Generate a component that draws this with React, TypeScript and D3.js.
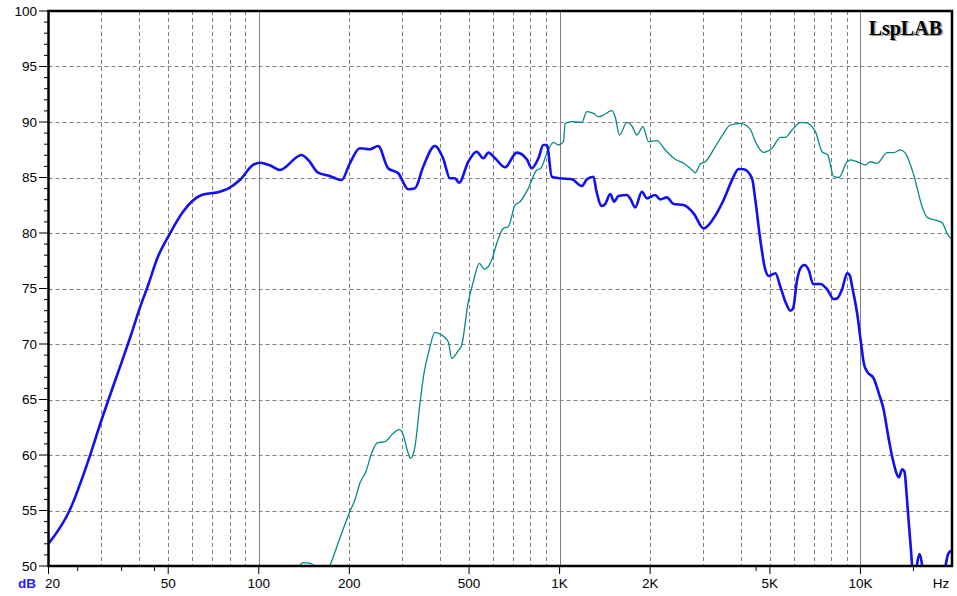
import { line, curveMonotoneX, scaleLog, scaleLinear, range } from "d3";
import React from "react";

// measured SPL curves: [frequency Hz, level dB]
const mainResponse: [number, number][] = [
  [20, 52.0], [23.5, 55.0], [27.4, 59.85], [30, 63.15], [31.9, 65.25], [34.9, 68.26],
  [37.7, 70.9], [40, 73.05], [42.8, 75.25], [46.2, 77.85], [50, 79.67], [56, 81.92],
  [64.5, 83.42], [74.2, 83.72], [79, 84.0], [86.5, 84.77], [95.7, 86.13], [100.8, 86.33],
  [108.8, 86.1], [117.5, 85.68], [138.7, 87.03], [145.8, 86.6], [157.5, 85.43], [172, 85.14],
  [188.4, 84.77], [200.8, 86.28], [216.8, 87.63], [234, 87.54], [249.4, 87.84], [269, 85.83],
  [290.8, 85.38], [314, 83.94], [330.5, 84.03], [352, 85.97], [385, 87.84], [410, 86.73],
  [432, 84.93], [449, 84.93], [463, 84.53], [497, 86.42], [530, 87.32], [558, 86.73],
  [580, 87.24], [610, 86.73], [659, 85.92], [720, 87.24], [778, 86.64], [808, 85.83],
  [850, 86.73], [883, 87.93], [907, 87.93], [942, 85.07], [1003, 84.93], [1098, 84.84],
  [1185, 84.23], [1232, 84.84], [1296, 85.07], [1323, 83.87], [1382, 82.43], [1417, 82.6],
  [1473, 83.51], [1518, 82.82], [1569, 83.33], [1674, 83.42], [1716, 83.1], [1783, 82.31],
  [1877, 83.72], [1951, 83.12], [2079, 83.42], [2160, 83.03], [2274, 83.21], [2392, 82.61],
  [2582, 82.52], [2788, 81.77], [3010, 80.42], [3250, 81.32], [3508, 82.97], [3742, 84.77],
  [3935, 85.77], [4089, 85.74], [4360, 84.93], [4473, 82.97], [4647, 79.37], [4830, 76.67],
  [4953, 76.13], [5214, 76.37], [5417, 75.16], [5630, 73.81], [5850, 73.0], [5970, 73.2],
  [6157, 75.77], [6315, 76.82], [6512, 77.12], [6730, 76.67], [6960, 75.41], [7360, 75.41],
  [7748, 74.93], [8150, 74.05], [8365, 74.1], [8692, 74.93], [9032, 76.37], [9214, 76.2],
  [9384, 75.16], [9750, 72.77], [10080, 69.76], [10260, 68.26], [10530, 67.5], [11070, 66.91],
  [11510, 65.56], [11950, 64.05], [12270, 62.25], [12750, 59.85], [13250, 58.2], [13410, 57.99],
  [13770, 58.71], [14010, 58.5], [14230, 56.55], [14480, 53.85], [14750, 51.14], [14890, 49.5],
  [15130, 47.5], [15440, 50.2], [15720, 51.08], [16040, 50.0], [16330, 47.5], [18460, 47],
  [19180, 50.0], [19520, 50.99], [20000, 51.38],
];

const offAxisResponse: [number, number][] = [
  [130, 48], [138.7, 50.24], [140.4, 50.3], [147.8, 50.25], [152.4, 50.03], [157.2, 49.3],
  [167.1, 49.3], [172.3, 50.03], [186, 52.5], [195.8, 54.14], [200.8, 54.9], [208.7, 55.95],
  [216.8, 57.45], [227, 58.5], [237.2, 60.15], [247.6, 61.1], [262.6, 61.2], [279.9, 61.95],
  [293, 62.31], [302.1, 61.8], [311.5, 60.45], [319.8, 59.7], [330.5, 60.75], [343.4, 64.66],
  [354.1, 67.36], [368.7, 69.46], [385, 71.05], [405.5, 70.81], [426.5, 70.2], [437.8, 68.71],
  [460.5, 69.4], [472.7, 69.9], [497, 73.8], [516.6, 75.61], [540.9, 77.27], [562.1, 76.73],
  [594.8, 77.57], [618.1, 79.07], [650.1, 80.42], [675.5, 80.57], [711.1, 82.52], [738.8, 82.82],
  [787.4, 84.03], [839.8, 85.68], [865.9, 85.83], [907, 87.18], [953.6, 88.17], [990.8, 87.93],
  [1030, 88.23], [1043, 89.88], [1098, 90.03], [1185, 89.97], [1232, 90.93], [1296, 90.78],
  [1346, 90.48], [1399, 90.63], [1492, 91.02], [1530, 90.48], [1581, 88.83], [1674, 89.97],
  [1739, 89.64], [1807, 88.83], [1892, 89.58], [1975, 88.23], [2106, 88.32], [2244, 87.48],
  [2423, 86.64], [2582, 86.28], [2718, 85.83], [2824, 85.43], [2935, 86.22], [3049, 86.42],
  [3292, 87.78], [3508, 88.98], [3692, 89.73], [3987, 89.88], [4305, 89.34], [4473, 88.23],
  [4766, 87.27], [5083, 87.63], [5417, 88.62], [5630, 88.62], [5926, 89.28], [6315, 89.94],
  [6560, 89.94], [7083, 89.13], [7457, 87.32], [7784, 87.03], [8150, 85.07], [8468, 85.0],
  [9032, 86.42], [9263, 86.58], [9871, 86.37], [10390, 86.13], [10800, 86.42], [11370, 86.28],
  [12270, 87.24], [12910, 87.24], [13590, 87.48], [14120, 87.18], [15040, 85.23], [16040, 82.37],
  [16670, 81.41], [18000, 81.11], [18700, 80.93], [19520, 79.82], [20000, 79.52],
];

const freqLabels = [20, 50, 100, 200, 500, 1000, 2000, 5000, 10000];
const freqLabelText = ["20", "50", "100", "200", "500", "1K", "2K", "5K", "10K"];
const decades = [100, 1000, 10000];
const minorFreqTicks = [25, 35, 45, 4500, 15000];
const dbLabels = [50, 55, 60, 65, 70, 75, 80, 85, 90, 95, 100];

const W = 957;
const H = 596;
const left = 48.5;
const right = 951;
const top = 11;
const bottom = 566;

const font = "Arial, 'Liberation Sans', sans-serif";

export default function App() {
  const x = scaleLog().domain([20, 20000]).range([left, right]);
  const y = scaleLinear().domain([50, 100]).range([bottom, top]);

  // dashed grid at 2..9 x decade
  const gridFreqs: number[] = [];
  [10, 100, 1000, 10000].forEach((d) => {
    for (let k = 2; k <= 9; k++) {
      const f = k * d;
      if (f > 20 && f < 20000) gridFreqs.push(f);
    }
  });

  const path = line<[number, number]>()
    .x((d) => x(d[0]))
    .y((d) => y(d[1]))
    .curve(curveMonotoneX);

  return (
    <svg
      width={W}
      height={H}
      style={{ position: "absolute", left: 0, top: 0, background: "#fff" }}
    >
      <defs>
        <clipPath id="plot">
          <rect x={left} y={top} width={right - left} height={bottom - top} />
        </clipPath>
      </defs>
      <rect width={W} height={H} fill="#fff" />

      {/* grid */}
      {gridFreqs.map((f) => (
        <line
          key={f}
          x1={Math.round(x(f)) + 0.5}
          x2={Math.round(x(f)) + 0.5}
          y1={top}
          y2={bottom}
          stroke="#808080"
          strokeDasharray="4,3"
        />
      ))}
      {decades.map((f) => (
        <line
          key={f}
          x1={Math.round(x(f)) + 0.5}
          x2={Math.round(x(f)) + 0.5}
          y1={top}
          y2={bottom}
          stroke="#808080"
        />
      ))}
      {dbLabels.slice(1, -1).map((v) => (
        <line
          key={v}
          x1={left}
          x2={right}
          y1={Math.round(y(v)) + 0.5}
          y2={Math.round(y(v)) + 0.5}
          stroke="#808080"
          strokeDasharray="4,3"
        />
      ))}

      {/* curves */}
      <g clipPath="url(#plot)">
        <path
          d={path(offAxisResponse)!}
          fill="none"
          stroke="#078787"
          strokeWidth={1.3}
        />
        <path
          d={path(mainResponse)!}
          fill="none"
          stroke="#1010f0"
          strokeWidth={2.6}
          strokeLinejoin="round"
        />
      </g>

      {/* frame */}
      <rect
        x={left}
        y={top}
        width={right - left + 1}
        height={bottom - top}
        fill="none"
        stroke="#000"
        strokeWidth={2.5}
      />

      {/* y ticks */}
      {range(50, 101).map((v) => (
        <line
          key={v}
          x1={v % 5 === 0 ? 39 : 44}
          x2={left}
          y1={y(v)}
          y2={y(v)}
          stroke="#000"
          strokeWidth={1}
        />
      ))}
      {dbLabels.map((v) => (
        <text
          key={v}
          x={37}
          y={y(v)}
          dy="0.36em"
          textAnchor="end"
          fontFamily={font}
          fontSize={13.5}
          fill="#000"
        >
          {v}
        </text>
      ))}

      {/* x ticks */}
      {freqLabels.map((f, i) => (
        <g key={f}>
          <line
            x1={x(f)}
            x2={x(f)}
            y1={bottom}
            y2={bottom + 8}
            stroke="#000"
          />
          <text
            x={x(f) + (i === 0 ? 4 : 0)}
            y={588}
            textAnchor="middle"
            fontFamily={font}
            fontSize={13.5}
            fill="#000"
          >
            {freqLabelText[i]}
          </text>
        </g>
      ))}
      {minorFreqTicks.map((f) => (
        <line
          key={f}
          x1={x(f)}
          x2={x(f)}
          y1={bottom}
          y2={bottom + 5}
          stroke="#000"
        />
      ))}
      <text
        x={941}
        y={588}
        textAnchor="middle"
        fontFamily={font}
        fontSize={13.5}
        fill="#000"
      >
        Hz
      </text>
      <text
        x={18}
        y={588}
        fontFamily={font}
        fontSize={13.5}
        fontWeight="bold"
        fill="#2222ff"
      >
        dB
      </text>

      {/* logo */}
      <text
        x={943.5}
        y={36}
        textAnchor="end"
        fontFamily="'Liberation Serif', 'Times New Roman', serif"
        fontSize={20}
        fontWeight="bold"
        fill="#999"
      >
        LspLAB
      </text>
      <text
        x={942}
        y={34.5}
        textAnchor="end"
        fontFamily="'Liberation Serif', 'Times New Roman', serif"
        fontSize={20}
        fontWeight="bold"
        fill="#000"
      >
        LspLAB
      </text>
    </svg>
  );
}
